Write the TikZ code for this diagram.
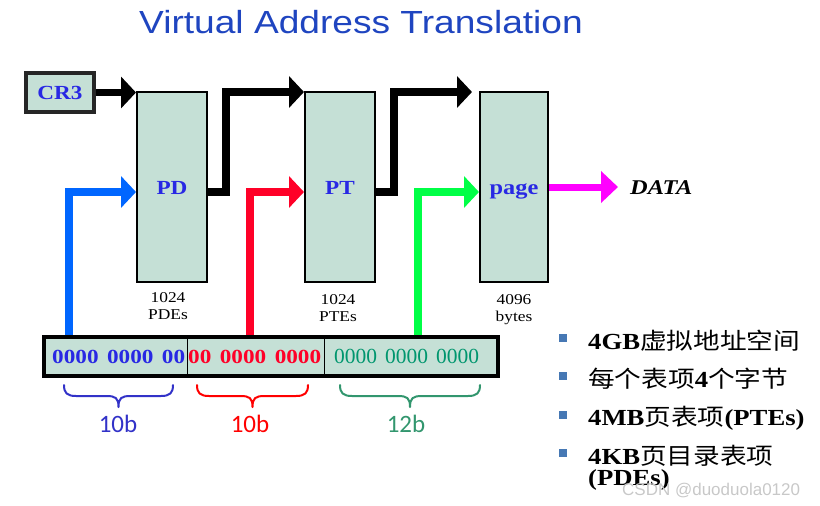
\documentclass[tikz,border=0pt]{standalone}
\usepackage{fontspec}
\setmainfont{Liberation Serif}[FakeStretch=1.16]
\newfontfamily\plainserif{Liberation Serif}
\newfontfamily\titlefont{Liberation Sans}[FakeStretch=1.16]
\newfontfamily\cjk{Noto Sans CJK SC}[FakeStretch=1.16]
\newfontfamily\calib{Carlito}
\newfontfamily\wmfont{Liberation Sans}
\usetikzlibrary{arrows.meta,calc}
\definecolor{boxfill}{RGB}{197,224,214}
\definecolor{titleblue}{RGB}{31,69,192}
\definecolor{txtblue}{RGB}{40,40,228}
\definecolor{arrblue}{RGB}{0,102,255}
\definecolor{arrred}{RGB}{255,0,40}
\definecolor{arrgreen}{RGB}{0,255,70}
\definecolor{arrmag}{RGB}{255,0,255}
\definecolor{bitgreen}{RGB}{0,150,110}
\definecolor{brblue}{RGB}{50,50,200}
\definecolor{brred}{RGB}{255,0,0}
\definecolor{brgreen}{RGB}{50,150,110}
\definecolor{bullet}{RGB}{70,120,180}
\definecolor{wmgray}{RGB}{200,200,200}
\newcommand\gp{\hspace{8.5pt}}
\newcommand\ggp{\hspace{8pt}}
% curly brace opening downward: colour, x1, x2, y
\newcommand\mybrace[4]{%
  \draw[line width=2pt, draw=#1, line cap=round, line join=round]
    (#2,#4) .. controls (#2,{#4+8}) and ({#2+3},{#4+11}) .. ({#2+12},{#4+11})
    -- ({(#2+#3)/2-12},{#4+11})
    .. controls ({(#2+#3)/2-3},{#4+11}) and ({(#2+#3)/2},{#4+13}) .. ({(#2+#3)/2},{#4+22})
    .. controls ({(#2+#3)/2},{#4+13}) and ({(#2+#3)/2+3},{#4+11}) .. ({(#2+#3)/2+12},{#4+11})
    -- ({#3-12},{#4+11})
    .. controls ({#3-3},{#4+11}) and (#3,{#4+8}) .. (#3,#4);}
\tikzset{
  tbl/.style={draw=black, line width=2pt, fill=boxfill, minimum width=70pt, minimum height=190pt, inner sep=0pt,
     text=txtblue, font=\bfseries\fontsize{20}{24}\selectfont, text height=14pt, text depth=0pt},
  blk/.style={line width=7.5pt, draw=black, line join=miter, -{Triangle[length=15pt,width=31pt]}},
  colarr/.style={line width=7.5pt, line join=miter, -{Triangle[length=15pt,width=31pt]}},
  brlab/.style={font=\calib\fontsize{25}{28}\selectfont},
  sublab/.style={align=center, font=\fontsize{15}{17}\selectfont, inner sep=0pt},
  bul/.style={fill=bullet, minimum size=8pt, inner sep=0pt},
  btxt/.style={anchor=west, inner sep=0pt, font=\bfseries\fontsize{23}{26}\selectfont}
}
\begin{document}
\begin{tikzpicture}[x=1pt,y=-1pt]
\useasboundingbox (0,0) rectangle (820,506);
% title
\node[text=titleblue, font=\titlefont\fontsize{32}{36}\selectfont] (title) at (361,22) {Virtual Address Translation};
% CR3
\node[draw=black!85, line width=4pt, fill=boxfill, minimum width=68pt, minimum height=39pt, inner sep=0pt,
   text=txtblue, font=\bfseries\fontsize{20}{24}\selectfont] (cr3) at (60,92.5) {CR3};
% tables
\node[tbl] (PD) at (172,187) {PD};
\node[tbl] (PT) at (340,187) {PT};
\node[tbl, minimum width=68pt, font=\bfseries\fontsize{21}{24}\selectfont] (page) at (514,187) {page};
% labels below
\node[sublab] (l1) at (168,306) {1024\\PDEs};
\node[sublab] (l2) at (338,308) {1024\\PTEs};
\node[sublab] (l3) at (514,310) {4096\\bytes};
% black arrows
\draw[blk] (cr3.east) -- (cr3.east -| PD.west);
\draw[blk] ([yshift=-5pt]PD.east) -- ++(18,0) |- ([yshift=-1pt]PT.north west);
\draw[blk] ([yshift=-5pt]PT.east) -- ++(18,0) |- ([xshift=-7pt,yshift=-1pt]page.north west);
% magenta
\draw[colarr, draw=arrmag, line width=7pt, -{Triangle[length=17pt,width=31pt]}] (page.east) -- ++(69,0) coordinate (dtip);
\node[anchor=west, font=\bfseries\itshape\fontsize{21}{24}\selectfont, inner sep=0pt] (data) at (630,188) {DATA};
% address bar
\node[draw=black, line width=4pt, fill=boxfill, minimum width=454pt, minimum height=39pt, inner sep=0pt] (bar) at (271,356.5) {};
\draw[line width=1pt] (187,337) -- (187,376);
\draw[line width=1pt] (324,337) -- (324,376);
\node[anchor=west, inner sep=0pt, text=txtblue, font=\bfseries\fontsize{20}{24}\selectfont] (bblue) at (52,357) {0000\gp0000\gp00};
\node[anchor=west, inner sep=0pt, text=arrred, font=\bfseries\fontsize{20}{24}\selectfont] (bred) at (188,357) {00\gp0000\gp0000};
\node[anchor=west, inner sep=0pt, text=bitgreen, font=\plainserif\fontsize{21.5}{24}\selectfont] (bgreen) at (334,356) {0000\ggp0000\ggp0000};
% colored index arrows
\draw[colarr, draw=arrblue] ([xshift=27pt]bar.north west) |- ([yshift=-5pt]PD.west);
\draw[colarr, draw=arrred] ([xshift=208pt]bar.north west) |- ([yshift=-5pt]PT.west);
\draw[colarr, draw=arrgreen] ([xshift=376pt]bar.north west) |- ([yshift=-5pt]page.west);
% braces
\mybrace{brblue}{64}{173}{385}
\mybrace{brred}{197}{308}{385}
\mybrace{brgreen}{340}{480}{385}
\node[brlab, text=brblue] (b1) at (118,424) {10b};
\node[brlab, text=brred] (b2) at (250,424) {10b};
\node[brlab, text=brgreen] (b3) at (406,424) {12b};
% bullets
\node[bul] (q1) at (563,338) {};
\node[bul] (q2) at (563,376) {};
\node[bul] (q3) at (563,415) {};
\node[bul] (q4) at (563,453) {};
\node[btxt] (t1) at (588,341) {4GB{\cjk\mdseries 虚拟地址空间}};
\node[btxt] (t2) at (588,379) {{\cjk\mdseries 每个表项}4{\cjk\mdseries 个字节}};
\node[btxt] (t3) at (588,418) {4MB{\cjk\mdseries 页表项}(PTEs)};
\node[btxt] (t4) at (588,456) {4KB{\cjk\mdseries 页目录表项}};
\node[btxt] (t5) at (588,480) {(PDEs)};
% watermark
\node[anchor=west, inner sep=0pt, text=wmgray, font=\wmfont\fontsize{17}{20}\selectfont] (wm) at (622,491) {CSDN @duoduola0120};
\end{tikzpicture}
\end{document}
